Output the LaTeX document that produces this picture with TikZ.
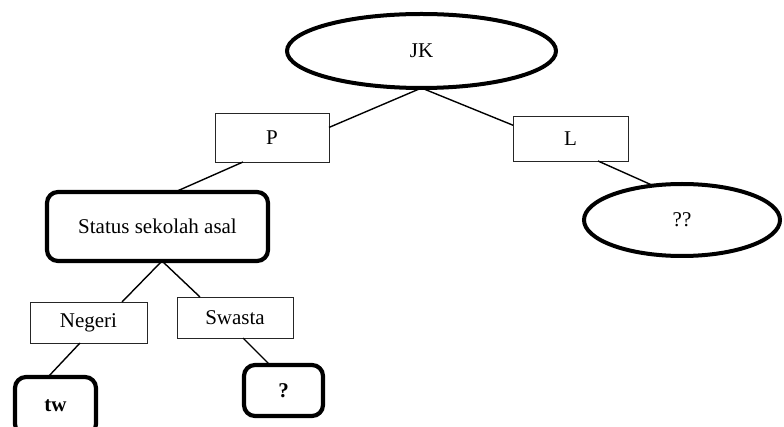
\documentclass[tikz,border=0pt]{standalone}
\usepackage{fontspec}
\setmainfont{Liberation Serif}
\usetikzlibrary{shapes.geometric}
\tikzset{
  every node/.style={font=\fontsize{21}{25}\selectfont, inner sep=0pt, outer sep=0pt},
  bigoval/.style={ellipse, draw, line width=4pt},
  label box/.style={rectangle, draw=black!85, line width=0.9pt},
  bold box/.style={rectangle, draw, line width=4.2pt, rounded corners=11pt},
  branch/.style={draw, line width=1.4pt}
}
\begin{document}
\begin{tikzpicture}[x=1pt, y=-1pt]
  \clip (0,0) rectangle (784,427);
  \fill[white] (0,0) rectangle (784,427);

  % root and first split
  \node[bigoval, minimum width=269pt, minimum height=74pt] (JK) at (421.5,51) {JK};
  \node[label box, minimum width=114pt, minimum height=49pt] (P) at (272,137.5) {P};
  \node[label box, minimum width=115pt, minimum height=45pt] (L) at (570.5,138.5) {L};
  \node[bigoval, minimum width=196pt, minimum height=72pt] (QQ) at (682,220) {??};

  % second level under P
  \node[bold box, minimum width=221pt, minimum height=69pt] (S) at (157.5,226.5) {Status sekolah asal};
  \node[label box, minimum width=117pt, minimum height=41pt] (N) at (88.5,322.5) {Negeri};
  \node[label box, minimum width=116pt, minimum height=41pt] (W) at (235,317.5) {Swasta};
  \node[bold box, minimum width=81pt, minimum height=58pt] (TW) at (55.5,406) {\textbf{tw}};
  \node[bold box, minimum width=79pt, minimum height=51pt] (Q) at (283.5,390.5) {\textbf{?}};

  % connectors
  \path[branch] (JK.south) -- (P.10);
  \path[branch] (JK.south) -- (L.167);
  \path[branch] (L.south) ++(27.5,0) coordinate (Lout) (Lout) -- (QQ.130);
  \path[branch] ([xshift=-29pt]P.south) -- ([xshift=17.5pt]S.north);
  \path[branch] ([xshift=4.5pt]S.south) -- ([xshift=33.5pt]N.north);
  \path[branch] ([xshift=4.5pt]S.south) -- ([xshift=-35pt]W.north);
  \path[branch] ([xshift=-8.5pt]N.south) -- ([xshift=-7.5pt]TW.north);
  \path[branch] ([xshift=8pt]W.south) -- ([xshift=-13.5pt]Q.north);
\end{tikzpicture}
\end{document}
